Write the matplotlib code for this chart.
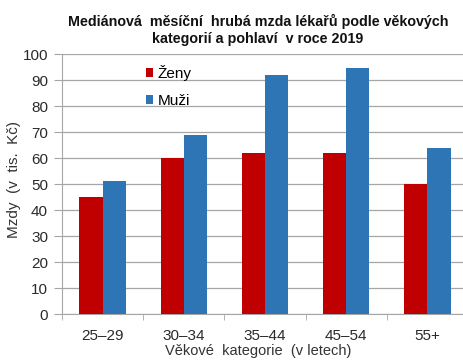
import matplotlib
matplotlib.use("Agg")
import matplotlib.pyplot as plt
import numpy as np

categories = ["25–29", "30–34", "35–44", "45–54", "55+"]
zeny = [45, 60, 62, 62, 50]
muzi = [51, 69, 92, 94.5, 64]
y_ticks = list(range(0, 101, 10))

plt.rcParams['font.family'] = ['Liberation Sans', 'DejaVu Sans']

RED = "#C00000"
BLUE = "#2E75B6"
GRID = "#A6A6A6"
TXT = "#2a2a2a"

fig = plt.figure(figsize=(4.63, 3.64), dpi=100)
W, H = 463, 364
left, right, bottom, top = 62, 468, 314, 54
ax = fig.add_axes([left / W, 1 - bottom / H, (right - left) / W, (bottom - top) / H])

x = np.arange(len(categories))
bw = 0.285
ax.bar(x - bw / 2, zeny, bw, color=RED, label="Ženy", zorder=3)
ax.bar(x + bw / 2, muzi, bw, color=BLUE, label="Muži", zorder=3)

ax.set_xlim(-0.5, len(categories) - 0.5)
ax.set_ylim(0, 100)
ax.set_yticks(y_ticks)
ax.yaxis.grid(True, color=GRID, linewidth=0.9, zorder=0)
ax.set_axisbelow(True)

ax.set_xticks(x)
ax.set_xticklabels(categories, fontsize=11, color=TXT)
ax.set_xticks(np.arange(len(categories) + 1) - 0.5, minor=True)
ax.tick_params(axis="x", which="major", length=0, pad=11)
ax.tick_params(axis="x", which="minor", length=4, color=GRID, direction="out")
ax.tick_params(axis="y", length=6, color=GRID, labelsize=11, labelcolor=TXT, pad=4)

for s in ["top", "right"]:
    ax.spines[s].set_visible(False)
for s in ["left", "bottom"]:
    ax.spines[s].set_color(GRID)

ax.set_ylabel("Mzdy  (v  tis.  Kč)", fontsize=11, color="#333333")
ax.yaxis.set_label_coords(-(left - 21) / (right - left), (314 - 180) / (bottom - top))
ax.set_xlabel("Věkové  kategorie  (v letech)", fontsize=10.5, color="#333333")
ax.xaxis.set_label_coords((258 - left) / (right - left), -(344 - bottom) / (bottom - top))

leg = ax.legend(loc="upper left", bbox_to_anchor=(0.18, 1.0), frameon=False,
                fontsize=11, handlelength=0.5, handleheight=0.5, handletextpad=0.3,
                labelspacing=0.85, borderaxespad=0.3)

fig.text(258 / W, 1 - 30 / H,
         "Mediánová  měsíční  hrubá mzda lékařů podle věkových\nkategorií a pohlaví  v roce 2019",
         ha="center", va="center", fontsize=10.3, fontweight="bold", color="#111111",
         linespacing=1.3)

fig.savefig("out.png", dpi=100)
